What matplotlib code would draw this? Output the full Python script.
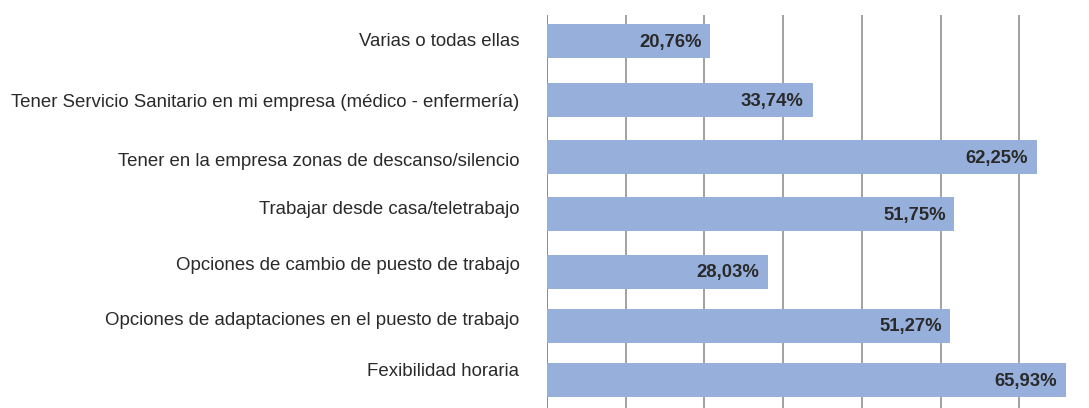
import matplotlib.pyplot as plt
import matplotlib.ticker as mticker

# Data
categories = [
    'Varias o todas ellas',
    'Tener Servicio Sanitario en mi empresa (médico - enfermería)',
    'Tener en la empresa zonas de descanso/silencio',
    'Trabajar desde casa/teletrabajo',
    'Opciones de cambio de puesto de trabajo',
    'Opciones de adaptaciones en el puesto de trabajo',
    'Fexibilidad horaria',
]
values = [20.76, 33.74, 62.25, 51.75, 28.03, 51.27, 65.93]
value_labels = ['20,76%', '33,74%', '62,25%', '51,75%', '28,03%', '51,27%', '65,93%']

# Layout (pixel rows of the original layout, y axis runs top->bottom)
bar_rows = [41.5, 100.5, 157.5, 214.5, 272, 326, 380.5]
label_rows = [42, 103, 162, 210, 266, 321, 372]
bar_height = 34

plt.rcParams['font.family'] = ['Liberation Sans', 'DejaVu Sans']

W, H = 1089, 408
fig = plt.figure(figsize=(W / 100, H / 100), dpi=100)
ax = fig.add_axes([547 / W, 0, 1 - 547 / W, 1 - 15 / H])

ax.barh(bar_rows, values, height=bar_height, color='#97B0DB', zorder=2)

# value labels inside bar ends
for y, v, t in zip(bar_rows, values, value_labels):
    ax.text(v - 1.1, y + 1, t, ha='right', va='center', fontsize=13.3,
            fontweight='bold', color='#2a2a2a', zorder=3)

# category labels on the left
for y, c in zip(label_rows, categories):
    ax.text(-3.5, y, c, ha='right', va='center', fontsize=13.4,
            color='#2a2a2a', clip_on=False)

ax.set_xlim(0, (W - 547) / 7.87)
ax.set_ylim(H, 15)
ax.xaxis.set_major_locator(mticker.MultipleLocator(10))
ax.grid(True, axis='x', color='#888888', linewidth=1.1, zorder=1)
ax.set_xticklabels([])
ax.set_yticks([])
ax.tick_params(length=0)
for s in ax.spines.values():
    s.set_visible(False)
ax.axvline(0, color='#888888', linewidth=1.1, zorder=1)

fig.savefig('out.png', dpi=100)
